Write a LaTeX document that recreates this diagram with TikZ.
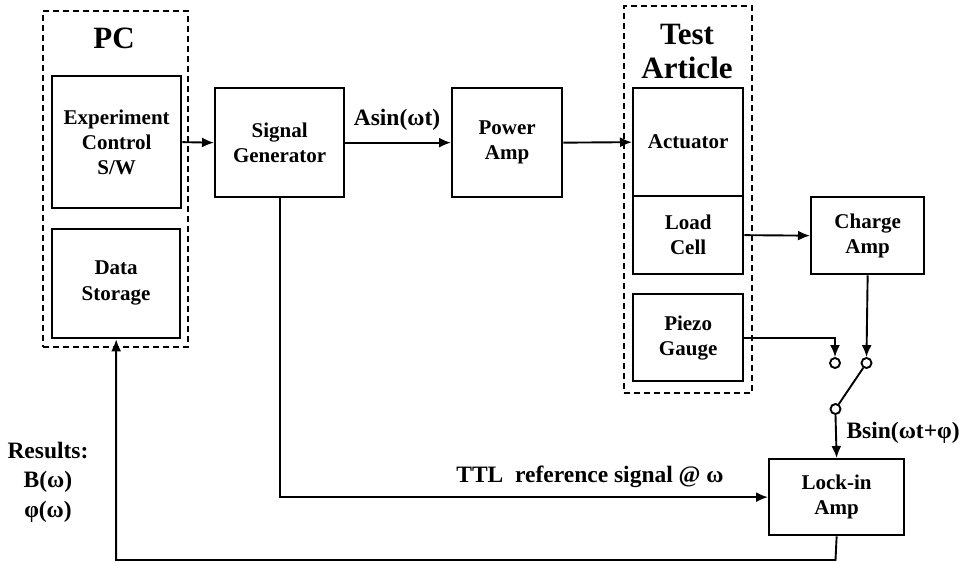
\documentclass[tikz,border=0pt]{standalone}
\usepackage{fontspec}
\setmainfont{Liberation Serif}
\usetikzlibrary{arrows.meta}
\begin{document}
\begin{tikzpicture}[x=1pt,y=-1pt,
  every node/.style={font=\fontsize{21}{25}\selectfont\bfseries, align=center},
  lbl/.style={font=\fontsize{23.5}{29.5}\selectfont\bfseries},
  blk/.style={draw, line width=2.3pt, anchor=north west, inner sep=0pt},
  grp/.style={draw, line width=2pt, dash pattern=on 6pt off 4pt, anchor=north west, inner sep=0pt},
  hdr/.style={font=\fontsize{31}{35}\selectfont\bfseries},
  arr/.style={line width=1.9pt, -{Latex[length=12pt,width=10pt]}},
  ln/.style={line width=1.9pt},
  term/.style={draw, circle, line width=1.9pt, minimum size=10pt, inner sep=0pt}
]
\path[use as bounding box] (0,0) rectangle (959,563);

% groups
\node[grp, minimum width=145pt, minimum height=336pt] (pc) at (42,10) {};
\node[hdr] (pclbl) at (114,38) {PC};
\node[grp, minimum width=128pt, minimum height=387pt] (ta) at (623,5) {};
\node[hdr] (talbl) at (687,51) {Test\\[-1pt]Article};

% blocks
\node[blk, minimum width=129pt, minimum height=132pt] (exp) at (51,75) {};
\node (explbl) at (exp.center) {Experiment\\Control\\S/W};
\node[blk, minimum width=128pt, minimum height=109pt] (ds) at (51,228) {};
\node (dslbl) at ([yshift=1pt]ds.center) {Data\\[1pt]Storage};
\node[blk, minimum width=129pt, minimum height=109pt] (sg) at (214,87) {};
\node (sglbl) at (sg.center) {Signal\\Generator};
\node[blk, minimum width=110pt, minimum height=109pt] (pa) at (451,87) {};
\node (palbl) at (pa.center) {Power\\Amp};
\node[blk, minimum width=110pt, minimum height=108pt] (act) at (632,87) {};
\node (actlbl) at (act.center) {Actuator};
\node[blk, minimum width=110pt, minimum height=78pt] (lc) at (632,195) {};
\node (lclbl) at (lc.center) {Load\\Cell};
\node[blk, minimum width=110pt, minimum height=87pt] (pz) at (632,293) {};
\node (pzlbl) at (pz.center) {Piezo\\Gauge};
\node[blk, minimum width=113pt, minimum height=77pt] (ch) at (810,196) {};
\node (chlbl) at (ch.center) {Charge\\Amp};
\node[blk, minimum width=135pt, minimum height=76pt] (li) at (768,458) {};
\node (lilbl) at (li.center) {Lock-in\\Amp};

% switch terminals
\node[term] (swL) at (835,363) {};
\node[term] (swR) at (866.5,363) {};
\node[term] (piv) at (835.5,409) {};
\coordinate (fb) at (835.5,560);

% connectors
\draw[arr] (exp.east) -- (sg.west);
\draw[arr] (sg.east) -- (pa.west);
\draw[arr] (pa.east) -- (act.west);
\draw[arr] (lc.east) -- (ch.west);
\draw[arr] (pz.east) -| (swL.north);
\draw[arr] (ch.south) -- (swR.north);
\draw[ln] (piv) -- (swR);
\draw[arr] (piv.south) -- (li.north);
\draw[arr] (sg.south) |- (li.west);
\draw[arr] (li.south) -- (fb) -| (ds.south);

% labels
\node[lbl] (asin) at (397,120) {Asin(ωt)};
\node[lbl, anchor=west] (bsin) at (843,433) {Bsin(ωt+φ)};
\node[lbl] (ttl) at (590,477) {TTL\ \ reference signal @ ω};
\node[lbl] (res) at (48,482) {Results:\\B(ω)\\φ(ω)};
\end{tikzpicture}
\end{document}
